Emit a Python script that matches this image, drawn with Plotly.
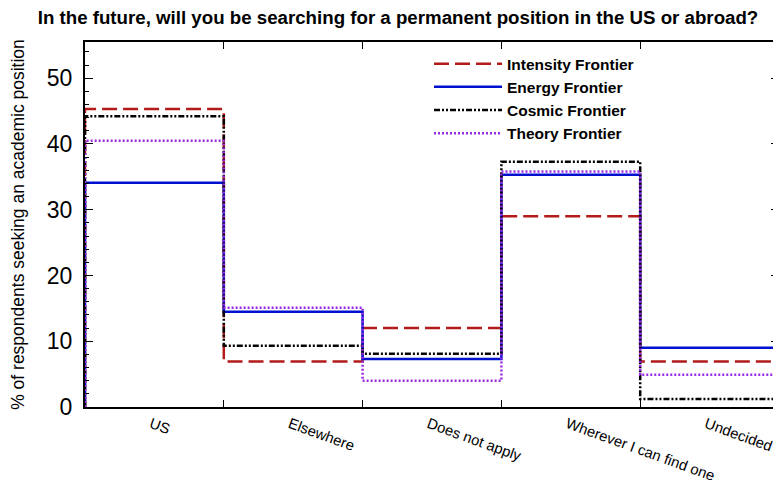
import plotly.graph_objects as go

categories = ["US", "Elsewhere", "Does not apply", "Wherever I can find one", "Undecided"]
series_names = ["Intensity Frontier", "Energy Frontier", "Cosmic Frontier", "Theory Frontier"]
intensity = [45.3, 6.9, 12.0, 29.0, 6.9]
energy = [34.1, 14.5, 7.3, 35.3, 9.0]
cosmic = [44.2, 9.3, 8.1, 37.3, 1.2]
theory = [40.5, 15.1, 4.0, 35.8, 4.9]
y_ticks = [0, 10, 20, 30, 40, 50]

values = [intensity, energy, cosmic, theory]
colors = ["#b31b1b", "#0010d0", "#000000", "#9a2be0"]
dashes = ["15px,6px", "solid", "6px,2px,2px,2px,2px,2px", "2px,2px"]

FONT = "Liberation Sans, Arial, sans-serif"

fig = go.Figure()
n = len(categories)
edges = list(range(n + 1))
for name, vals, col, dash in zip(series_names, values, colors, dashes):
    xs = [edges[0]] + edges
    ys = [0] + list(vals) + [vals[-1]]
    fig.add_trace(go.Scatter(
        x=xs, y=ys, mode="lines", name="<b>" + name + "</b>", line_shape="hv",
        line=dict(color=col, width=2.5, dash=dash), xaxis="x", yaxis="y",
    ))

# invisible trace for the label axis
fig.add_trace(go.Scatter(x=[i + 0.5 for i in range(n)], y=[0] * n, mode="markers",
                         marker=dict(opacity=0), showlegend=False, hoverinfo="skip",
                         xaxis="x2", yaxis="y"))

# the page body adds an 8px offset, so the figure is 8px smaller on each axis
W, H = 773, 477
fig.update_layout(
    width=W, height=H,
    margin=dict(l=77, r=2, t=34, b=78, autoexpand=False),
    paper_bgcolor="white", plot_bgcolor="white",
    font=dict(family=FONT, color="black"),
    title=dict(text="<b>In the future, will you be searching for a permanent position in the US or abroad?</b>",
               x=390 / W, xanchor="center", xref="container", y=1 - 3 / H, yanchor="top", yref="container",
               font=dict(size=18.7, family=FONT, color="black")),
    xaxis=dict(range=[0, n], tickvals=edges[1:-1], showticklabels=False,
               ticks="inside", ticklen=7, tickwidth=1, tickcolor="black",
               showline=True, linecolor="black", linewidth=2, mirror="ticks",
               showgrid=False, zeroline=False, automargin=False),
    xaxis2=dict(range=[0.025, n + 0.025], overlaying="x", anchor="y", side="bottom",
                tickvals=[i + 0.5 for i in range(n)], ticktext=categories,
                tickangle=20, ticks="", showline=False, showgrid=False, zeroline=False,
                automargin=False, ticklabelstandoff=5,
                tickfont=dict(size=14.8, family=FONT, color="black")),
    yaxis=dict(range=[0, 55.5], tickvals=y_ticks, ticks="inside", ticklen=8, tickwidth=1,
               tickcolor="black", showline=True, linecolor="black", linewidth=2,
               mirror="ticks", showgrid=False, zeroline=False, automargin=False,
               ticklabelstandoff=6,
               tickfont=dict(size=23, family=FONT, color="black"),
               minor=dict(dtick=2, ticks="inside", ticklen=4, tickcolor="black", showgrid=False),
               title=dict(text="% of respondents seeking an academic position",
                          font=dict(size=17.5, family=FONT, color="black"), standoff=25)),
    legend=dict(x=0.4957, y=0.986, xanchor="left", yanchor="top",
                bgcolor="rgba(0,0,0,0)", borderwidth=0,
                font=dict(size=15.5, family=FONT, color="black"),
                itemwidth=68, tracegroupgap=0),
    showlegend=True,
)

fig.write_html("out.html")
